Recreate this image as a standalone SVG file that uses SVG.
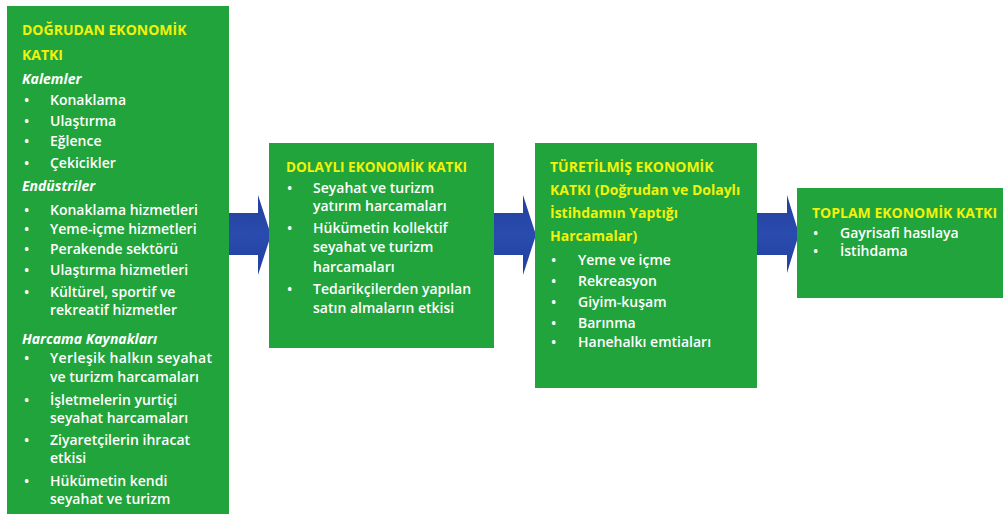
<svg xmlns="http://www.w3.org/2000/svg" width="1006" height="514" viewBox="0 0 1006 514">
<defs>
<linearGradient id="ag" x1="0" y1="0" x2="0" y2="1">
<stop offset="0" stop-color="#213f9e"/>
<stop offset="0.5" stop-color="#2a4cae"/>
<stop offset="1" stop-color="#213f9e"/>
</linearGradient>
<style>
.box{fill:#22a43c}
.arrow{fill:url(#ag)}
text{font-family:"Open Sans","Liberation Sans",sans-serif;font-size:14px}
.h{fill:#f2f20a;font-weight:700}
.s{fill:#ffffff;font-weight:700;font-style:italic}
.t{fill:#ffffff;font-weight:600}
</style>
</defs>
<rect width="1006" height="514" fill="#ffffff"/>
<g id="connectors">
<polygon class="arrow" points="228,213 258,213 258,195 271,235 258,275 258,255 228,255"/>
<polygon class="arrow" points="492,213 523,213 523,195 536,235 523,275 523,255 492,255"/>
<polygon class="arrow" points="755,213 787,213 787,195 799,234 787,273 787,255 755,255"/>
</g>
<g id="node-direct">
<rect class="box" x="7" y="6" width="222" height="514"/>
<text class="h" x="22" y="35">DOĞRUDAN EKONOMİK</text>
<text class="h" x="22" y="60">KATKI</text>
<text class="s" x="22" y="84">Kalemler</text>
<text class="t" x="24" y="105">•</text><text class="t" x="50" y="105">Konaklama</text>
<text class="t" x="24" y="126">•</text><text class="t" x="50" y="126">Ulaştırma</text>
<text class="t" x="24" y="146">•</text><text class="t" x="50" y="146">Eğlence</text>
<text class="t" x="24" y="168">•</text><text class="t" x="50" y="168">Çekicikler</text>
<text class="s" x="22" y="191">Endüstriler</text>
<text class="t" x="24" y="215">•</text><text class="t" x="50" y="215">Konaklama hizmetleri</text>
<text class="t" x="24" y="234">•</text><text class="t" x="50" y="234">Yeme-içme hizmetleri</text>
<text class="t" x="24" y="254">•</text><text class="t" x="50" y="254">Perakende sektörü</text>
<text class="t" x="24" y="275">•</text><text class="t" x="50" y="275">Ulaştırma hizmetleri</text>
<text class="t" x="24" y="297">•</text><text class="t" x="50" y="297">Kültürel, sportif ve</text>
<text class="t" x="50" y="315">rekreatif hizmetler</text>
<text class="s" x="22" y="344">Harcama Kaynakları</text>
<text class="t" x="24" y="363">•</text><text class="t" x="50" y="363" textLength="162" lengthAdjust="spacing">Yerleşik halkın seyahat</text>
<text class="t" x="50" y="382">ve turizm harcamaları</text>
<text class="t" x="24" y="405">•</text><text class="t" x="50" y="405">İşletmelerin yurtiçi</text>
<text class="t" x="50" y="423">seyahat harcamaları</text>
<text class="t" x="24" y="445">•</text><text class="t" x="50" y="445">Ziyaretçilerin ihracat</text>
<text class="t" x="50" y="463">etkisi</text>
<text class="t" x="24" y="486">•</text><text class="t" x="50" y="486">Hükümetin kendi</text>
<text class="t" x="50" y="504">seyahat ve turizm</text>
</g>
<g id="node-indirect">
<rect class="box" x="269" y="143" width="225" height="205"/>
<text class="h" x="286" y="172" textLength="181" lengthAdjust="spacingAndGlyphs">DOLAYLI EKONOMİK KATKI</text>
<text class="t" x="287" y="193">•</text><text class="t" x="313" y="193">Seyahat ve turizm</text>
<text class="t" x="313" y="211">yatırım harcamaları</text>
<text class="t" x="287" y="233">•</text><text class="t" x="313" y="233">Hükümetin kollektif</text>
<text class="t" x="313" y="252">seyahat ve turizm</text>
<text class="t" x="313" y="272">harcamaları</text>
<text class="t" x="287" y="294">•</text><text class="t" x="313" y="294">Tedarikçilerden yapılan</text>
<text class="t" x="313" y="313">satın almaların etkisi</text>
</g>
<g id="node-induced">
<rect class="box" x="535" y="143" width="222" height="245"/>
<text class="h" x="550" y="172">TÜRETİLMİŞ EKONOMİK</text>
<text class="h" x="550" y="195">KATKI (Doğrudan ve Dolaylı</text>
<text class="h" x="550" y="218">İstihdamın Yaptığı</text>
<text class="h" x="550" y="241">Harcamalar)</text>
<text class="t" x="551" y="265">•</text><text class="t" x="578" y="265">Yeme ve içme</text>
<text class="t" x="551" y="286">•</text><text class="t" x="578" y="286">Rekreasyon</text>
<text class="t" x="551" y="307">•</text><text class="t" x="578" y="307">Giyim-kuşam</text>
<text class="t" x="551" y="328">•</text><text class="t" x="578" y="328">Barınma</text>
<text class="t" x="551" y="347">•</text><text class="t" x="578" y="347">Hanehalkı emtiaları</text>
</g>
<g id="node-total">
<rect class="box" x="797" y="188" width="206" height="110"/>
<text class="h" x="812" y="218">TOPLAM EKONOMİK KATKI</text>
<text class="t" x="813" y="238">•</text><text class="t" x="840" y="238">Gayrisafi hasılaya</text>
<text class="t" x="813" y="256">•</text><text class="t" x="840" y="256">İstihdama</text>
</g>
</svg>
